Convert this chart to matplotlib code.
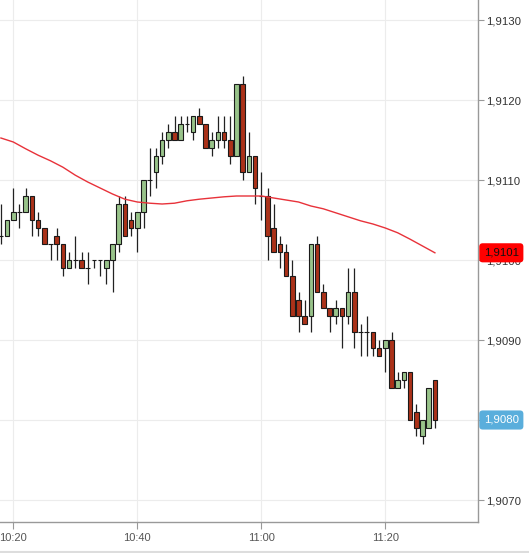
import numpy as np
import pandas as pd
import matplotlib
matplotlib.use("Agg")
import matplotlib.pyplot as plt
import matplotlib.dates as mdates
from matplotlib.lines import Line2D

plt.rcParams['font.family'] = ['Liberation Sans', 'DejaVu Sans']

# one-minute candles, 10:18 .. 11:28 (prices as 1.xxxx, in 1e-4 units)
start = "2014-01-01 10:18"
opens = [9103, 9103, 9105, 9106, 9106, 9108, 9105, 9104, 9102, 9103,
         9102, 9099, 9100, 9100, 9099, 9100, 9100, 9099, 9100, 9102,
         9107, 9105, 9104, 9106, 9110, 9111, 9113, 9115, 9116, 9115,
         9117, 9116, 9118, 9117, 9114, 9115, 9116, 9115, 9113, 9122,
         9111, 9113, 9108, 9108, 9104, 9102, 9101, 9098, 9095, 9093,
         9093, 9102, 9096, 9094, 9093, 9094, 9093, 9096, 9091, 9091,
         9091, 9089, 9089, 9090, 9084, 9085, 9086, 9081, 9078, 9079,
         9085]
highs = [9107, 9105, 9109, 9107, 9109, 9108, 9106, 9104, 9102, 9104,
         9102, 9101, 9103, 9101, 9101, 9100, 9100, 9100, 9102, 9108,
         9108, 9106, 9106, 9110, 9114, 9114, 9116, 9117, 9118, 9118,
         9118, 9118, 9119, 9117, 9116, 9118, 9118, 9118, 9122, 9123,
         9116, 9113, 9111, 9109, 9107, 9103, 9102, 9100, 9096, 9095,
         9102, 9103, 9097, 9094, 9095, 9094, 9099, 9099, 9092, 9093,
         9091, 9090, 9090, 9091, 9086, 9086, 9086, 9082, 9080, 9084,
         9085]
lows = [9102, 9103, 9105, 9104, 9106, 9103, 9103, 9102, 9100, 9100,
        9098, 9099, 9099, 9099, 9097, 9099, 9098, 9097, 9096, 9101,
        9103, 9103, 9101, 9104, 9108, 9109, 9112, 9114, 9115, 9115,
        9116, 9115, 9117, 9114, 9113, 9114, 9114, 9112, 9113, 9110,
        9111, 9107, 9105, 9100, 9101, 9099, 9098, 9093, 9091, 9092,
        9091, 9096, 9094, 9091, 9092, 9089, 9092, 9089, 9088, 9088,
        9088, 9088, 9086, 9084, 9084, 9084, 9080, 9078, 9077, 9079,
        9079]
closes = [9103, 9105, 9106, 9106, 9108, 9105, 9104, 9102, 9102, 9102,
          9099, 9100, 9100, 9099, 9099, 9100, 9100, 9100, 9102, 9107,
          9103, 9104, 9106, 9110, 9110, 9113, 9115, 9116, 9115, 9117,
          9117, 9118, 9117, 9114, 9115, 9116, 9115, 9113, 9122, 9111,
          9113, 9109, 9108, 9103, 9101, 9101, 9098, 9093, 9093, 9092,
          9102, 9096, 9094, 9093, 9094, 9093, 9096, 9091, 9091, 9091,
          9089, 9088, 9090, 9084, 9085, 9086, 9080, 9079, 9080, 9084,
          9080]

# moving average, read every two minutes from 10:18
ma_values = [9115.25, 9114.75, 9113.9, 9113.1, 9112.4, 9111.6, 9110.6,
             9109.75, 9109.0, 9108.25, 9107.6, 9107.25, 9107.1, 9107.0,
             9107.1, 9107.4, 9107.6, 9107.75, 9107.9, 9108.0, 9108.0,
             9108.0, 9107.75, 9107.5, 9107.25, 9106.75, 9106.4, 9105.9,
             9105.4, 9104.9, 9104.5, 9104.0, 9103.4, 9102.6, 9101.75,
             9100.9]

price_ticks = [1.9070, 1.9080, 1.9090, 1.9100, 1.9110, 1.9120, 1.9130]
time_ticks = ["10:20", "10:40", "11:00", "11:20"]
ma_label = "1,9101"
last_label = "1,9080"


def to_price(vals):
    return 1.0 + np.array(vals) / 1e4


times = pd.date_range(start, periods=len(opens), freq="min")
x = mdates.date2num(times)
o, h, l, c = to_price(opens), to_price(highs), to_price(lows), to_price(closes)
ma_x = mdates.date2num(pd.date_range(start, periods=len(ma_values), freq="2min"))
ma_y = to_price(ma_values)

fig = plt.figure(figsize=(5.29, 5.53), dpi=100)
ax = fig.add_axes([0, 1 - 522 / 553, 478 / 529, 522 / 553])

one_min = 1 / 1440
width = 0.75 * one_min
up = c > o
green = '#98c38a'
red = '#ab3219'

ax.vlines(x, l, h, color='#222222', lw=0.9, zorder=2)
ax.bar(x, np.abs(c - o), width=width, bottom=np.minimum(o, c),
       color=np.where(up, green, red), edgecolor='#1a1a1a', linewidth=0.8,
       zorder=3)
ax.plot(ma_x, ma_y, color='#e8323a', lw=1.0, zorder=4)

t0 = mdates.date2num(pd.Timestamp("2014-01-01 10:20"))
ax.set_xlim(t0 - 2.145 * one_min, t0 + 74.95 * one_min)
ax.set_ylim(1.906725, 1.91325)

ax.set_xticks([mdates.date2num(pd.Timestamp("2014-01-01 " + t)) for t in time_ticks])
ax.set_xticklabels(time_ticks)
ax.set_yticks(price_ticks)
ax.set_yticklabels([f"{p:.4f}".replace(".", ",") for p in price_ticks])

ax.yaxis.tick_right()
ax.tick_params(axis='y', direction='out', length=4, color='#999999',
               labelsize=8.2, labelcolor='#333333', pad=2)
ax.tick_params(axis='x', direction='out', length=5, color='#999999',
               labelsize=8, labelcolor='#555555', pad=3)
ax.grid(True, color='#ececec', lw=0.8, zorder=0)
ax.set_axisbelow(True)
for side in ['left', 'top']:
    ax.spines[side].set_visible(False)
for side in ['right', 'bottom']:
    ax.spines[side].set_color('#999999')
    ax.spines[side].set_linewidth(1.0)

# value boxes on the price axis
box = dict(boxstyle='round,pad=0.4,rounding_size=0.3', lw=0)
ax.annotate(ma_label, xy=(1, ma_y[-1]), xycoords=('axes fraction', 'data'),
            xytext=(4.2, 0), textcoords='offset points', va='center', ha='left',
            fontsize=8.2, color='#111111',
            bbox=dict(box, fc='#ff0000'), zorder=10, annotation_clip=False)
ax.annotate(last_label, xy=(1, c[-1]), xycoords=('axes fraction', 'data'),
            xytext=(4.2, 0), textcoords='offset points', va='center', ha='left',
            fontsize=8.2, color='white',
            bbox=dict(box, fc='#5aaedc'), zorder=10, annotation_clip=False)

fig.add_artist(Line2D([0, 1], [1.5 / 553, 1.5 / 553], color='#dddddd', lw=1.5))

fig.savefig("out.png", dpi=100, facecolor='white')
